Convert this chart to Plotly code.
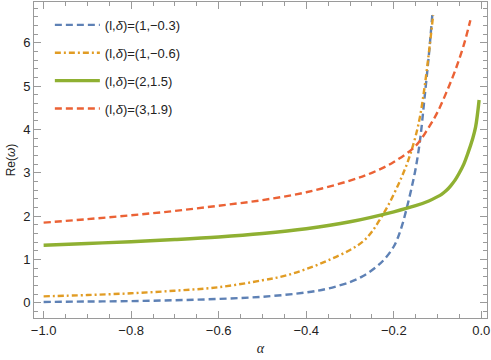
import plotly.graph_objects as go

blue_x = [-1.0, -0.9, -0.8, -0.7, -0.6, -0.5, -0.4, -0.35, -0.3, -0.27, -0.24, -0.22, -0.2, -0.19, -0.18, -0.17, -0.16, -0.15, -0.14, -0.13, -0.12, -0.112]
blue_y = [0.02, 0.03, 0.04, 0.06, 0.09, 0.14, 0.24, 0.33, 0.48, 0.62, 0.83, 1.02, 1.3, 1.52, 1.82, 2.2, 2.62, 3.1, 3.75, 4.7, 5.7, 6.64]

orange_x = [-1.0, -0.9, -0.8, -0.7, -0.6, -0.5, -0.45, -0.4, -0.35, -0.3, -0.27, -0.25, -0.23, -0.21, -0.19, -0.18, -0.17, -0.16, -0.15, -0.14, -0.13, -0.12, -0.11]
orange_y = [0.15, 0.18, 0.22, 0.28, 0.36, 0.52, 0.62, 0.78, 0.98, 1.22, 1.42, 1.64, 1.95, 2.3, 2.72, 2.95, 3.2, 3.5, 3.85, 4.3, 4.95, 5.75, 6.64]

green_x = [-1.0, -0.9, -0.8, -0.7, -0.6, -0.5, -0.4, -0.3, -0.2, -0.15, -0.12, -0.1, -0.09, -0.08, -0.07, -0.06, -0.05, -0.04, -0.03, -0.02, -0.013, -0.005]
green_y = [1.33, 1.37, 1.41, 1.46, 1.52, 1.6, 1.71, 1.87, 2.1, 2.24, 2.35, 2.45, 2.51, 2.59, 2.7, 2.83, 3.0, 3.2, 3.47, 3.78, 4.06, 4.68]

red_x = [-1.0, -0.9, -0.8, -0.7, -0.6, -0.5, -0.4, -0.3, -0.25, -0.2, -0.15, -0.12, -0.1, -0.08, -0.06, -0.04, -0.025]
red_y = [1.85, 1.93, 2.02, 2.12, 2.24, 2.37, 2.55, 2.82, 3.0, 3.25, 3.62, 4.05, 4.4, 4.85, 5.35, 5.95, 6.52]

names = ["(l,<i>δ</i>)=(1,−0.3)", "(l,<i>δ</i>)=(1,−0.6)", "(l,<i>δ</i>)=(2,1.5)", "(l,<i>δ</i>)=(3,1.9)"]

fig = go.Figure()
fig.add_trace(go.Scatter(x=blue_x, y=blue_y, mode="lines", name=names[0], legendgroup="a",
                         line=dict(color="#5E81B5", width=2.4, dash="7px,4px", shape="spline")))
fig.add_trace(go.Scatter(x=orange_x, y=orange_y, mode="lines", name=names[1], legendgroup="b",
                         line=dict(color="#E19C24", width=2.4, dash="6px,3px,2px,3px", shape="spline")))
fig.add_trace(go.Scatter(x=green_x, y=green_y, mode="lines", name=names[2], legendgroup="c",
                         line=dict(color="#8FB032", width=3.4, shape="spline")))
fig.add_trace(go.Scatter(x=red_x, y=red_y, mode="lines", name=names[3], legendgroup="d",
                         line=dict(color="#EB6235", width=2.4, dash="7px,4px", shape="spline")))

axis_common = dict(
    showgrid=False, zeroline=False, showline=True, linecolor="#9a9a9a", linewidth=1,
    mirror="ticks", ticks="inside", ticklen=7, tickcolor="#9a9a9a",
    tickfont=dict(family="Liberation Sans, Arial", size=13, color="#222"),
)

fig.update_layout(
    width=491, height=360,
    margin=dict(l=34, r=4, t=2, b=42),
    plot_bgcolor="white", paper_bgcolor="white",
    showlegend=True,
    legend=dict(x=0.035, y=0.975, xanchor="left", yanchor="top", bgcolor="rgba(0,0,0,0)",
                font=dict(family="Liberation Sans, Arial", size=13, color="#222"),
                tracegroupgap=8, itemwidth=45),
    xaxis=dict(range=[-1.022, 0.013], tickvals=[-1.0, -0.8, -0.6, -0.4, -0.2, 0.0],
               ticktext=["−1.0", "−0.8", "−0.6", "−0.4", "−0.2", "0.0"],
               minor=dict(dtick=0.05, tick0=0, ticks="inside", ticklen=4, tickcolor="#9a9a9a"),
               title=dict(text="<i>α</i>", font=dict(family="Liberation Serif, Times New Roman", size=14, color="#222"), standoff=6),
               **axis_common),
    yaxis=dict(range=[-0.35, 6.94], tickvals=[0, 1, 2, 3, 4, 5, 6],
               minor=dict(dtick=0.2, tick0=0, ticks="inside", ticklen=4, tickcolor="#9a9a9a"),
               title=dict(text="Re(<i>ω</i>)", font=dict(family="Liberation Sans, Arial", size=12, color="#222"), standoff=4),
               **axis_common),
)

fig.write_html("out.html", config={"displayModeBar": False},
               post_script="document.body.style.margin='0';")
